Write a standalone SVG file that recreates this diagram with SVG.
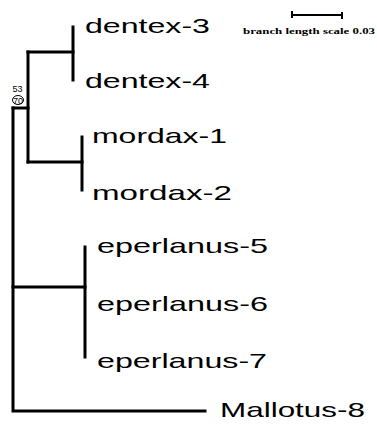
<svg xmlns="http://www.w3.org/2000/svg" width="377" height="426" viewBox="0 0 377 426">
  <style>
    .edge { fill: none; stroke: #000; stroke-width: 3; stroke-linecap: square; }
    .scale { fill: none; stroke: #000; stroke-width: 2; }
    .taxon { font-family: "Liberation Sans", Arial, sans-serif; font-size: 21px; fill: #000; }
    .boot { font-family: "Liberation Sans", Arial, sans-serif; font-size: 9px; fill: #000; }
    .note { font-family: "Liberation Serif", "Times New Roman", serif; font-size: 8.5px; font-weight: bold; fill: #000; }
  </style>
  <rect width="377" height="426" fill="#fff"/>

  <!-- tree branches -->
  <g id="connectors">
    <!-- root: Mallotus vs rest -->
    <path class="edge" d="M13,108 V411 H205"/>
    <path class="edge" d="M13,108 H28"/>
    <!-- root to eperlanus clade -->
    <path class="edge" d="M13,287 H85"/>
    <path class="edge" d="M85,247 V357"/>
    <!-- dentex + mordax clade -->
    <path class="edge" d="M28,52 V162"/>
    <path class="edge" d="M28,52 H73"/>
    <path class="edge" d="M73,27 V80"/>
    <path class="edge" d="M28,162 H82"/>
    <path class="edge" d="M82,137 V190"/>
  </g>

  <!-- support values -->
  <g id="support">
    <text class="boot" x="12.5" y="92" textLength="10" lengthAdjust="spacingAndGlyphs">53</text>
    <ellipse cx="18" cy="100" rx="5.5" ry="4.5" fill="none" stroke="#000" stroke-width="1"/>
    <text class="boot" x="13" y="104" textLength="10" lengthAdjust="spacingAndGlyphs">70</text>
  </g>

  <!-- taxa -->
  <g id="dentex-3"><text class="taxon" x="85" y="33" textLength="125" lengthAdjust="spacingAndGlyphs">dentex-3</text></g>
  <g id="dentex-4"><text class="taxon" x="85" y="88" textLength="125" lengthAdjust="spacingAndGlyphs">dentex-4</text></g>
  <g id="mordax-1"><text class="taxon" x="92" y="143" textLength="135" lengthAdjust="spacingAndGlyphs">mordax-1</text></g>
  <g id="mordax-2"><text class="taxon" x="92" y="200" textLength="140" lengthAdjust="spacingAndGlyphs">mordax-2</text></g>
  <g id="eperlanus-5"><text class="taxon" x="97" y="253" textLength="171" lengthAdjust="spacingAndGlyphs">eperlanus-5</text></g>
  <g id="eperlanus-6"><text class="taxon" x="97" y="311" textLength="171" lengthAdjust="spacingAndGlyphs">eperlanus-6</text></g>
  <g id="eperlanus-7"><text class="taxon" x="97" y="368" textLength="170" lengthAdjust="spacingAndGlyphs">eperlanus-7</text></g>
  <g id="Mallotus-8"><text class="taxon" x="220" y="417" textLength="145" lengthAdjust="spacingAndGlyphs">Mallotus-8</text></g>

  <!-- scale bar -->
  <g id="scale-bar">
    <path class="scale" d="M292,15 H342 M292,11 V18 M342,12 V19"/>
    <text class="note" x="243" y="34" textLength="132" lengthAdjust="spacingAndGlyphs">branch length scale 0.03</text>
  </g>
</svg>
